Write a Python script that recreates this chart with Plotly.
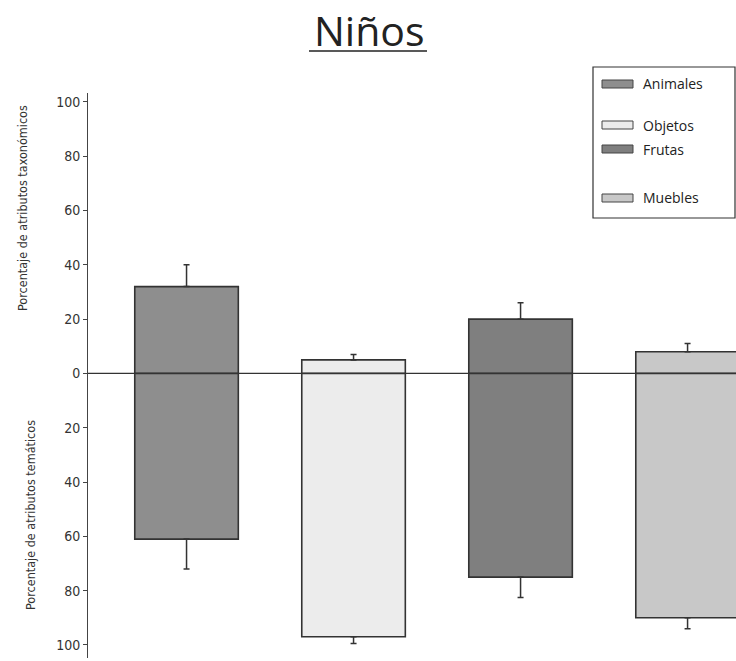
import plotly.graph_objects as go

# Categories and values (percent of attributes)
categories = ["Animales", "Objetos", "Frutas", "Muebles"]
taxonomic = [32, 5, 20, 8]          # upward bars
taxonomic_err = [8, 2, 6, 3]
thematic = [61, 97, 75, 90]         # downward bars
thematic_err = [11, 2.5, 7.5, 4]
colors = ["#8e8e8e", "#ececec", "#7f7f7f", "#c8c8c8"]

tick_values = [100, 80, 60, 40, 20, 0, -20, -40, -60, -80, -100]
tick_labels = ["100", "80", "60", "40", "20", "0", "20", "40", "60", "80", "100"]

W, H = 736, 661
ML, MR, MT, MB = 88, 0, 93, 3
PW, PH = W - ML - MR, H - MT - MB


def px_x(px):
    return (px - ML) / PW


def px_y(py):
    return (H - MB - py) / PH


NARROW = "Liberation Sans Narrow, DejaVu Sans Condensed, Arial Narrow, sans-serif"
SANS = "Open Sans, Liberation Sans, sans-serif"

fig = go.Figure()
for i, cat in enumerate(categories):
    fig.add_trace(go.Bar(
        x=[i, i],
        y=[taxonomic[i], -thematic[i]],
        width=0.62,
        name=cat,
        marker=dict(color=colors[i], line=dict(color="#333333", width=1.6)),
        error_y=dict(
            type="data", symmetric=False,
            array=[taxonomic_err[i], 0],
            arrayminus=[0, thematic_err[i]],
            color="#333333", thickness=1.5, width=3,
        ),
        showlegend=False,
    ))

shapes = [
    # zero line drawn over the bars
    dict(type="line", xref="paper", yref="y", x0=0, x1=1, y0=0, y1=0,
         line=dict(color="#333333", width=1.2), layer="above"),
    # title underline
    dict(type="line", xref="paper", yref="paper", x0=px_x(309), x1=px_x(427),
         y0=px_y(51), y1=px_y(51), line=dict(color="#222222", width=1.5)),
    # legend frame
    dict(type="rect", xref="paper", yref="paper", x0=px_x(593), x1=px_x(735),
         y0=px_y(218), y1=px_y(67), line=dict(color="#333333", width=1.2),
         fillcolor="white", layer="above"),
]

annotations = [
    dict(text="Niños", xref="paper", yref="paper", x=px_x(369), y=px_y(30),
         xanchor="center", yanchor="middle", showarrow=False,
         font=dict(family=SANS, size=41, color="#222222")),
    dict(text="Porcentaje de atributos taxonómicos", xref="paper", yref="paper",
         x=px_x(22), y=px_y(208), textangle=-90, showarrow=False,
         xanchor="center", yanchor="middle",
         font=dict(family=NARROW, size=12.5, color="#333333")),
    dict(text="Porcentaje de atributos temáticos", xref="paper", yref="paper",
         x=px_x(30), y=px_y(515), textangle=-90, showarrow=False,
         xanchor="center", yanchor="middle",
         font=dict(family=NARROW, size=12.5, color="#333333")),
]

# hand-placed legend entries
legend_rows = [84, 125, 149, 198]
for cat, col, ry in zip(categories, colors, legend_rows):
    shapes.append(dict(type="rect", xref="paper", yref="paper",
                       x0=px_x(602), x1=px_x(633), y0=px_y(ry + 4), y1=px_y(ry - 4),
                       fillcolor=col, line=dict(color="#444444", width=1), layer="above"))
    annotations.append(dict(text=cat, xref="paper", yref="paper",
                            x=px_x(641), y=px_y(ry), xanchor="left", yanchor="middle",
                            showarrow=False,
                            font=dict(family=SANS, size=14, color="#222222")))

fig.update_layout(
    width=W, height=H,
    margin=dict(l=ML, r=MR, t=MT, b=MB),
    paper_bgcolor="white", plot_bgcolor="white",
    barmode="overlay",
    xaxis=dict(range=[-0.59, 3.29], visible=False),
    yaxis=dict(
        range=[-104.8, 103.3],
        tickvals=tick_values, ticktext=tick_labels,
        showline=True, linecolor="#444444", linewidth=1,
        ticks="outside", ticklen=4, tickcolor="#444444",
        showgrid=False, zeroline=False,
        tickfont=dict(family=NARROW, size=14, color="#333333"),
    ),
    shapes=shapes,
    annotations=annotations,
)

fig.write_html("out.html")
